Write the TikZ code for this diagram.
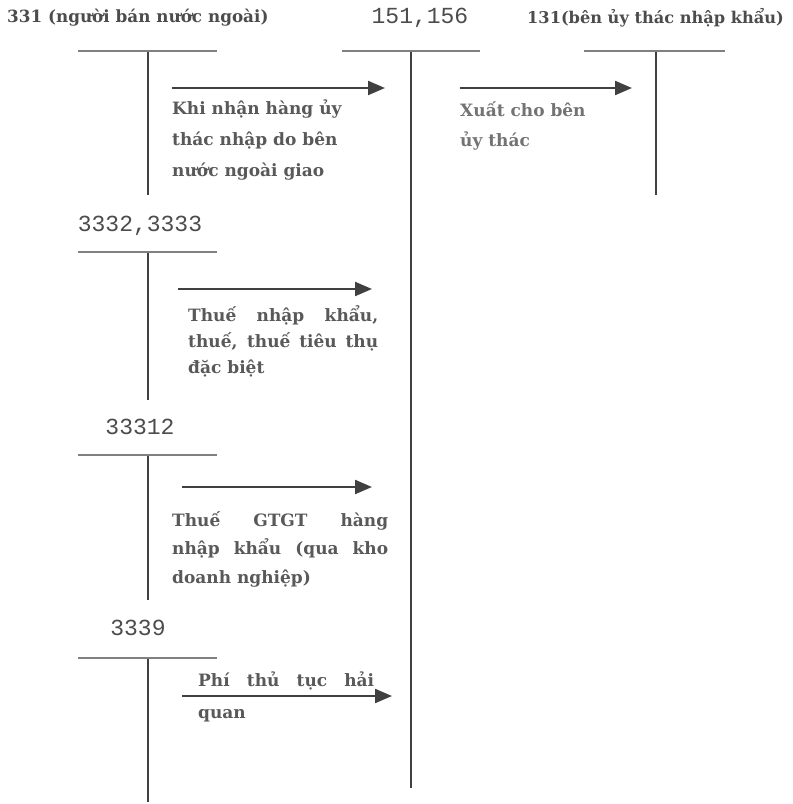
\documentclass[tikz,border=0pt]{standalone}
\usepackage{fontspec}
\setmainfont{DejaVu Serif}
\newfontfamily\numfont{Liberation Mono}
\usetikzlibrary{arrows.meta}
\begin{document}
\begin{tikzpicture}[x=1pt,y=-1pt,
 tbar/.style={line width=2.6pt, draw=black!50},
 tstem/.style={line width=2pt, draw=black!75},
 flow/.style={line width=2.2pt, draw=black!75, -{Triangle[length=17pt,width=14pt]}},
 acct/.style={font=\bfseries\fontsize{#1}{20}\selectfont, text=black!70, inner sep=0},
 num/.style={font=\numfont\fontsize{23}{26}\selectfont, text=black!70, inner sep=0},
 note/.style={font=\bfseries\fontsize{17}{#1}\selectfont, text=black!65, inner sep=0, anchor=north west}
]
\useasboundingbox (0,0) rectangle (793,804);
% titles
\node[acct=16.8, anchor=west] (t331) at (7,18) {331 (người bán nước ngoài)};
\node[num] (t151) at (420,18) {151,156};
\node[acct=16.2, anchor=east] (t131) at (784,18) {131(bên ủy thác nhập khẩu)};
\node[num] (t3332) at (140,226) {3332,3333};
\node[num] (t33312) at (140,427) {33312};
\node[num] (t3339) at (138,628) {3339};
% T accounts
\coordinate (a1l) at (78,51);  \coordinate (a1r) at (217,51);  \coordinate (a1t) at (148,51);  \coordinate (a1b) at (148,195);
\coordinate (a2l) at (342,51); \coordinate (a2r) at (480,51);  \coordinate (a2t) at (411,51);  \coordinate (a2b) at (411,788);
\coordinate (a3l) at (584,51); \coordinate (a3r) at (725,51);  \coordinate (a3t) at (656,51);  \coordinate (a3b) at (656,195);
\coordinate (a4l) at (78,252); \coordinate (a4r) at (217,252); \coordinate (a4t) at (148,252); \coordinate (a4b) at (148,400);
\coordinate (a5l) at (78,455); \coordinate (a5r) at (217,455); \coordinate (a5t) at (148,455); \coordinate (a5b) at (148,600);
\coordinate (a6l) at (78,658); \coordinate (a6r) at (217,658); \coordinate (a6t) at (148,658); \coordinate (a6b) at (148,802);
\foreach \i in {1,...,6}{
  \draw[tstem] (a\i t) -- (a\i b);
  \draw[tbar] (a\i l) -- (a\i r);
}
% flows
\coordinate (f1s) at (172,88);  \coordinate (f1e) at (385,88);
\coordinate (f2s) at (460,88);  \coordinate (f2e) at (632,88);
\coordinate (f3s) at (178,289); \coordinate (f3e) at (372,289);
\coordinate (f4s) at (182,487); \coordinate (f4e) at (372,487);
\coordinate (f5s) at (182,696); \coordinate (f5e) at (392,696);
\foreach \i in {1,...,5}{ \draw[flow] (f\i s) -- (f\i e); }
% notes
\node[note=31, align=left] (n1) at (172,100) {Khi nhận hàng ủy\\thác nhập do bên\\nước ngoài giao};
\node[note=30, align=left, text=black!55] (n2) at (460,101) {Xuất cho bên\\ủy thác};
\node[note=26, text width=190pt, align=justify] (n3) at (188,305) {Thuế nhập khẩu,\linebreak thuế, thuế tiêu thụ\linebreak đặc biệt};
\node[note=28.5, text width=216pt, align=justify] (n4) at (172,511) {Thuế GTGT hàng\linebreak nhập khẩu (qua kho\linebreak doanh nghiệp)};
\node[note=32, text width=176pt, align=justify] (n5) at (198,672) {Phí thủ tục hải\linebreak quan};
\end{tikzpicture}
\end{document}
